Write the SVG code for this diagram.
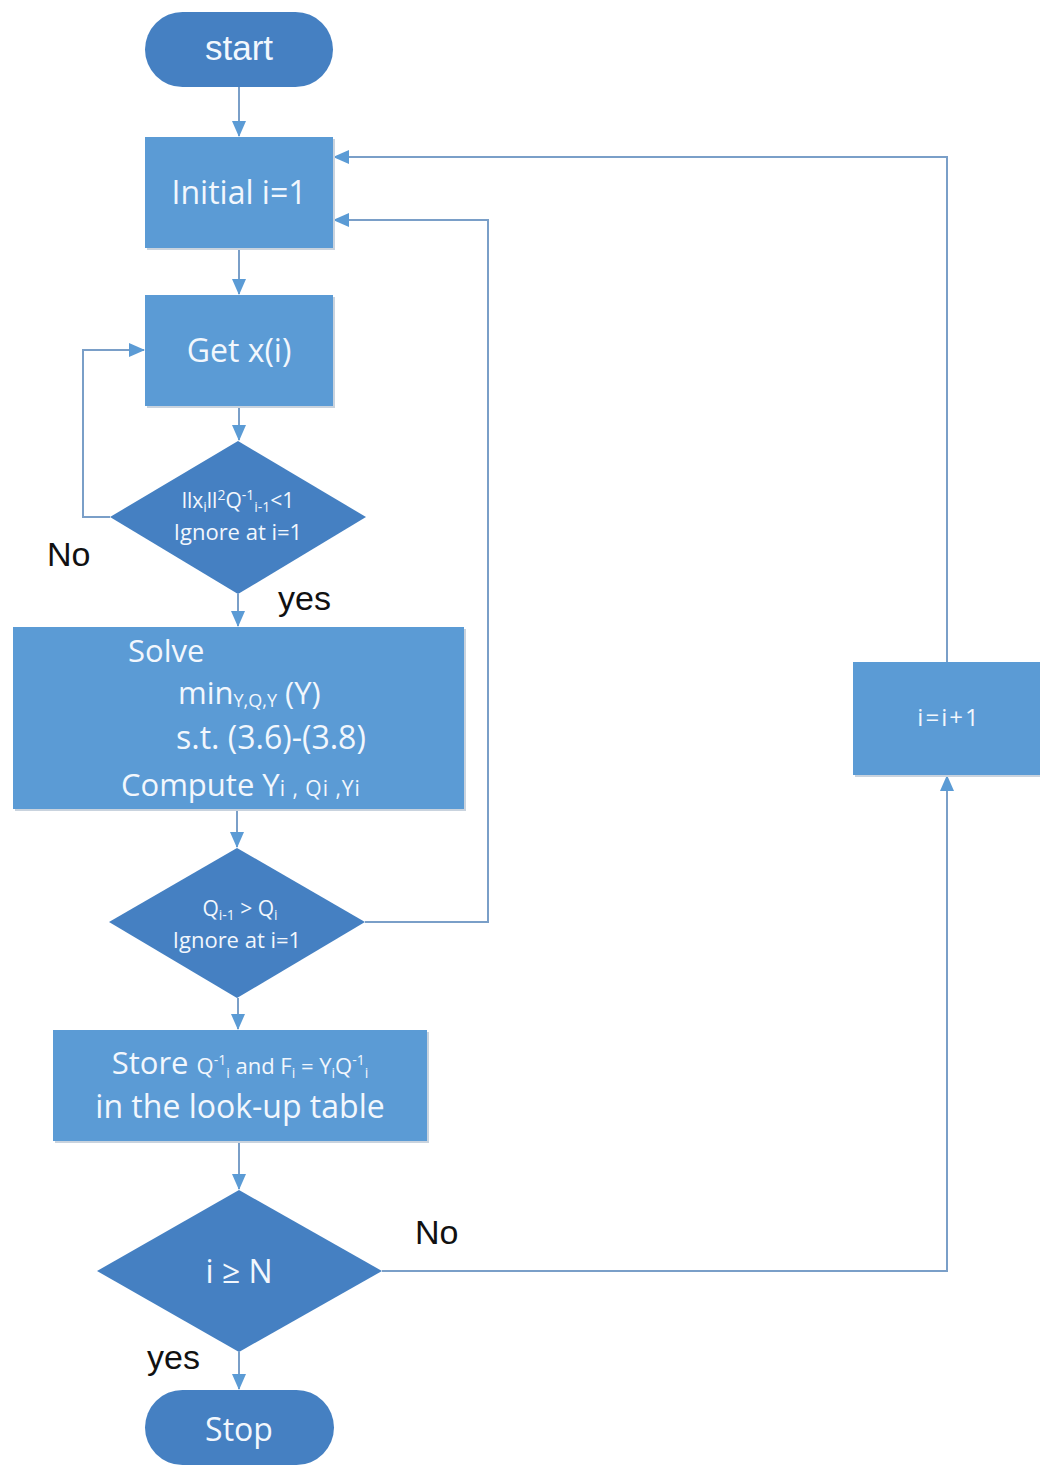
<svg xmlns="http://www.w3.org/2000/svg" width="1040" height="1465" viewBox="0 0 1040 1465">
<style>
.rect{fill:#5B9BD5;}
.shadow{fill:#c9d3de;}
.dark{fill:#4580C2;}
.conn{fill:none;stroke:#7A9FC8;stroke-width:2;}
.t{font-family:"Open Sans","Liberation Sans",sans-serif;fill:#F2F7FD;}
.lbl{font-family:"Liberation Sans",Arial,sans-serif;fill:#111;font-size:34px;}
</style>
<defs>
<marker id="ah" markerWidth="16" markerHeight="14" refX="15" refY="7" orient="auto" markerUnits="userSpaceOnUse">
<path d="M0,0 L16,7 L0,14 Z" fill="#5B9BD5"/>
</marker>
</defs>
<rect width="1040" height="1465" fill="#fff"/>
<g id="connectors">
<line class="conn" x1="239" y1="87" x2="239" y2="136" marker-end="url(#ah)"/>
<line class="conn" x1="239" y1="248" x2="239" y2="294" marker-end="url(#ah)"/>
<line class="conn" x1="239" y1="406" x2="239" y2="440" marker-end="url(#ah)"/>
<polyline class="conn" points="110,517 83,517 83,350 144,350" marker-end="url(#ah)"/>
<line class="conn" x1="238" y1="594" x2="238" y2="626" marker-end="url(#ah)"/>
<line class="conn" x1="237" y1="809" x2="237" y2="847" marker-end="url(#ah)"/>
<polyline class="conn" points="365,922 488,922 488,220 334,220" marker-end="url(#ah)"/>
<line class="conn" x1="238" y1="998" x2="238" y2="1029" marker-end="url(#ah)"/>
<line class="conn" x1="239" y1="1141" x2="239" y2="1189" marker-end="url(#ah)"/>
<polyline class="conn" points="382,1271 947,1271 947,776" marker-end="url(#ah)"/>
<polyline class="conn" points="947,662 947,157 334,157" marker-end="url(#ah)"/>
<line class="conn" x1="239" y1="1352" x2="239" y2="1389" marker-end="url(#ah)"/>
</g>
<g id="start">
<rect class="dark" x="145" y="12" width="188" height="75" rx="37.5"/>
<text x="239" y="60" text-anchor="middle" style="font-family:'Liberation Sans',Arial,sans-serif;fill:#F2F7FD;font-size:35px">start</text>
</g>
<g id="init">
<rect class="shadow" x="147" y="139" width="188" height="111"/>
<rect class="rect" x="145" y="137" width="188" height="111"/>
<text class="t" x="239" y="204" text-anchor="middle" font-size="32">Initial i=1</text>
</g>
<g id="getx">
<rect class="shadow" x="147" y="297" width="188" height="111"/>
<rect class="rect" x="145" y="295" width="188" height="111"/>
<text class="t" x="239" y="362" text-anchor="middle" font-size="32">Get x(i)</text>
</g>
<g id="cond1">
<polygon class="dark" points="238,441 366,517 238,594 110,517"/>
<text class="t" x="238" y="508" text-anchor="middle" font-size="21">llx<tspan font-size="14" dy="4">i</tspan><tspan dy="-4">ll</tspan><tspan font-size="14" dy="-8">2</tspan><tspan dy="8">Q</tspan><tspan font-size="14" dy="-8">-1</tspan><tspan font-size="14" dy="12">i-1</tspan><tspan dy="-4">&lt;1</tspan></text>
<text class="t" x="238" y="540" text-anchor="middle" font-size="22">Ignore at i=1</text>
</g>
<text class="lbl" x="47" y="566">No</text>
<text class="lbl" x="278" y="610">yes</text>
<g id="solve">
<rect class="shadow" x="15" y="629" width="451" height="182"/>
<rect class="rect" x="13" y="627" width="451" height="182"/>
<text class="t" x="128" y="662" font-size="31">Solve</text>
<text class="t" x="178" y="704" font-size="31">min<tspan font-size="18" dy="3">Y,Q,Y</tspan><tspan dy="-3"> (Υ)</tspan></text>
<text class="t" x="176" y="749" font-size="32">s.t. (3.6)-(3.8)</text>
<text class="t" x="121" y="796" font-size="31">Compute Υ<tspan font-size="21" letter-spacing="1">i , Qi ,Yi</tspan></text>
</g>
<g id="cond2">
<polygon class="dark" points="237,848 365,922 237,998 109,922"/>
<text class="t" x="240" y="916" text-anchor="middle" font-size="21">Q<tspan font-size="14" dy="4">i-1</tspan><tspan dy="-4"> &gt; Q</tspan><tspan font-size="14" dy="4">i</tspan></text>
<text class="t" x="237" y="948" text-anchor="middle" font-size="22">Ignore at i=1</text>
</g>
<g id="store">
<rect class="shadow" x="55" y="1032" width="374" height="111"/>
<rect class="rect" x="53" y="1030" width="374" height="111"/>
<text class="t" x="240" y="1074" text-anchor="middle" font-size="31">Store <tspan font-size="22">Q<tspan font-size="14" dy="-9">-1</tspan><tspan font-size="14" dy="13">i</tspan><tspan dy="-4"> and F</tspan><tspan font-size="14" dy="4">i</tspan><tspan dy="-4"> = Y</tspan><tspan font-size="14" dy="4">i</tspan><tspan dy="-4">Q</tspan><tspan font-size="14" dy="-9">-1</tspan><tspan font-size="14" dy="13">i</tspan></tspan></text>
<text class="t" x="240" y="1118" text-anchor="middle" font-size="32">in the look-up table</text>
</g>
<g id="cond3">
<polygon class="dark" points="239,1190 382,1271 239,1352 97,1271"/>
<text class="t" x="239" y="1283" text-anchor="middle" font-size="32">i ≥ N</text>
</g>
<text class="lbl" x="415" y="1244">No</text>
<text class="lbl" x="147" y="1369">yes</text>
<g id="incr">
<rect class="shadow" x="855" y="664" width="187" height="113"/>
<rect class="rect" x="853" y="662" width="187" height="113"/>
<text class="t" x="949" y="726" text-anchor="middle" font-size="24" letter-spacing="2">i=i+1</text>
</g>
<g id="stop">
<rect class="dark" x="145" y="1390" width="189" height="75" rx="37.5"/>
<text class="t" x="239" y="1441" text-anchor="middle" font-size="32">Stop</text>
</g>
</svg>
